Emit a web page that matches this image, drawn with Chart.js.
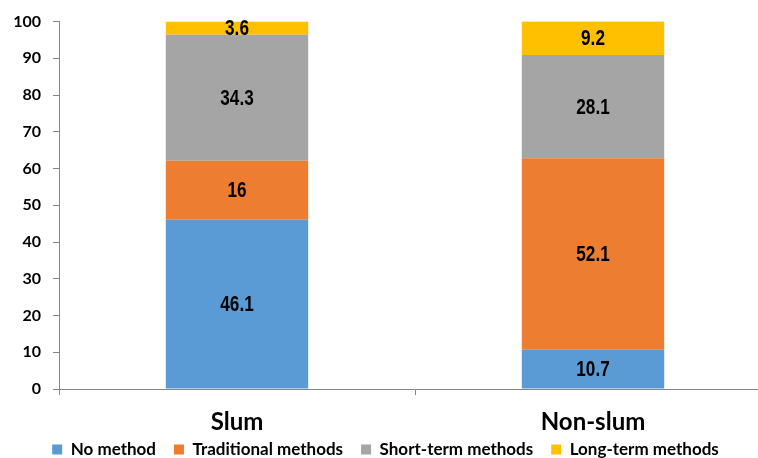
<!DOCTYPE html>
<html>
<head>
<meta charset="utf-8">
<script src="https://cdn.jsdelivr.net/npm/chart.js@4"></script>
<style>
  html, body { margin: 0; padding: 0; background: #fff; overflow: hidden; }
  #wrap { width: 771px; height: 458px; }
</style>
</head>
<body>
<div id="wrap"><canvas id="chart"></canvas></div>
<script>
var categories = ['Slum', 'Non-slum'];
var noMethod = [46.1, 10.7];
var traditional = [16, 52.1];
var shortTerm = [34.3, 28.1];
var longTerm = [3.6, 9.2];
var yTicks = [0, 10, 20, 30, 40, 50, 60, 70, 80, 90, 100];

// draws the value in the middle of each stacked segment (narrow bold look)
var segmentLabels = {
    id: 'segmentLabels',
    afterDatasetsDraw: function (chart) {
        var ctx = chart.ctx;
        chart.data.datasets.forEach(function (ds, i) {
            chart.getDatasetMeta(i).data.forEach(function (bar, j) {
                var yMid = (bar.y + bar.base) / 2;
                ctx.save();
                ctx.translate(bar.x, yMid + 1);
                ctx.scale(0.78, 1);
                ctx.font = 'bold 22px "Liberation Sans", Arial, sans-serif';
                ctx.fillStyle = '#000';
                ctx.textAlign = 'center';
                ctx.textBaseline = 'middle';
                ctx.fillText(String(ds.data[j]), 0, 0);
                ctx.restore();
            });
        });
    }
};

// keep the legend strip short so it sits tight under the category names
var legendFit = {
    id: 'legendFit',
    afterInit: function (chart) {
        var lg = chart.legend;
        var orig = lg.fit;
        lg.fit = function () {
            orig.call(this);
            this.height = 24;
        };
    },
    afterLayout: function (chart) {
        chart.legend.top -= 11;
        chart.legend.height += 11;
    }
};

new Chart(document.getElementById('chart'), {
    type: 'bar',
    data: {
        labels: categories,
        datasets: [
            { label: 'No method', data: noMethod, backgroundColor: '#5B9BD5' },
            { label: 'Traditional methods', data: traditional, backgroundColor: '#ED7D31' },
            { label: 'Short-term methods', data: shortTerm, backgroundColor: '#A5A5A5' },
            { label: 'Long-term methods', data: longTerm, backgroundColor: '#FFC000' }
        ]
    },
    options: {
        responsive: true,
        maintainAspectRatio: false,
        animation: false,
        layout: { padding: { top: 13, right: 0, left: 0, bottom: 0 } },
        datasets: {
            bar: { barPercentage: 1, categoryPercentage: 0.4 }
        },
        plugins: {
            legend: {
                position: 'bottom',
                labels: {
                    boxWidth: 10,
                    boxHeight: 10,
                    padding: 18,
                    color: '#000',
                    font: { family: 'Lato, "Liberation Sans", sans-serif', size: 17, weight: 'bold' }
                }
            },
            tooltip: { enabled: false }
        },
        scales: {
            x: {
                stacked: true,
                afterFit: function (scale) { scale.height = 45; },
                grid: { drawOnChartArea: false, offset: true, tickLength: 6, color: '#868686' },
                border: { color: '#868686' },
                ticks: {
                    color: '#000',
                    padding: 13,
                    font: { family: 'Lato, "Liberation Sans", sans-serif', size: 24, weight: 'bold' }
                }
            },
            y: {
                stacked: true,
                min: 0,
                max: 100,
                afterFit: function (scale) { scale.width = 59; },
                afterBuildTicks: function (axis) {
                    axis.ticks = yTicks.map(function (v) { return { value: v }; });
                },
                grid: { drawOnChartArea: false, tickLength: 6, color: '#868686' },
                border: { color: '#868686' },
                ticks: {
                    color: '#000',
                    padding: 12,
                    font: { family: 'Lato, "Liberation Sans", sans-serif', size: 16, weight: 'bold' }
                }
            }
        }
    },
    plugins: [segmentLabels, legendFit]
});
</script>
</body>
</html>
